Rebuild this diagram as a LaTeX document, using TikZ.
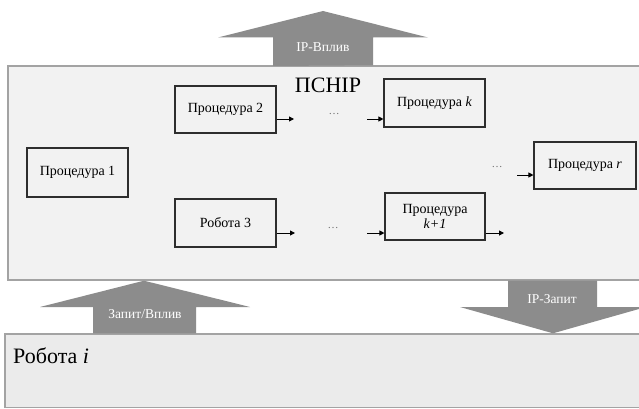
\documentclass[tikz,border=0pt]{standalone}
\usepackage{fontspec}
\setmainfont{Liberation Serif}
\usetikzlibrary{arrows.meta}
\definecolor{panelfill}{HTML}{F2F2F2}
\definecolor{panelline}{HTML}{A3A3A3}
\definecolor{basefill}{HTML}{EBEBEB}
\definecolor{bigarrow}{HTML}{8C8C8C}
\definecolor{boxline}{HTML}{2E2E2E}
\definecolor{dotgray}{HTML}{707070}
\begin{document}
\begin{tikzpicture}[x=1pt,y=-1pt,
  procbox/.style={draw=boxline, line width=1.1pt, fill=panelfill, inner sep=0pt,
    align=center, font=\fontsize{14}{16}\selectfont},
  link/.style={-{Triangle[length=5pt,width=5pt]}, line width=1pt, black},
  bigarr/.style={fill=bigarrow, draw=none},
  arrlabel/.style={text=white, font=\fontsize{13.5}{15}\selectfont},
  dotstyle/.style={text=dotgray, font=\fontsize{11}{12}\selectfont, anchor=base, inner sep=0pt},
  bigtitle/.style={font=\fontsize{22}{24}\selectfont, inner sep=0pt}]
\useasboundingbox (0,0) rectangle (639,409);
\clip (0,0) rectangle (639,409);
\fill[white] (0,0) rectangle (639,409);

% panels
\draw[panelline, line width=1.4pt, fill=panelfill] (8,66) rectangle (660,280);
\draw[panelline, line width=1.4pt, fill=basefill] (5,334) rectangle (660,407.5);

% big arrows
\path[bigarr] (273,66) -- (273,37.5) -- (218,37.5) -- (323,11) -- (428,37.5) -- (373,37.5) -- (373,65.3) -- cycle;
\node[arrlabel] (lblup) at (323,47) {IP-Вплив};

\path[bigarr] (93,333.3) -- (93,307) -- (40,307) -- (144,280.7) -- (250,307) -- (196,307) -- (196,333.3) -- cycle;
\node[arrlabel] (lblreq) at (145,314) {Запит/Вплив};

\path[bigarr] (508,280.7) -- (508,307) -- (460,307) -- (553,333.3) -- (646,307) -- (597,307) -- (597,280.7) -- cycle;
\node[arrlabel] (lbldown) at (552,299) {IP-Запит};

% titles
\node[bigtitle] (title) at (328,85) {ПСНІР};
\node[bigtitle, anchor=west] (work) at (13,356) {Робота \textit{i}};

% procedure boxes
\node[procbox, minimum width=101pt, minimum height=47pt] (p2) at (225.5,109.5) {Процедура 2};
\node[procbox, minimum width=101pt, minimum height=48pt] (pk) at (434.5,103) {Процедура \textit{k}};
\node[procbox, minimum width=101pt, minimum height=49pt] (p1) at (77.5,172.5) {Процедура 1};
\node[procbox, minimum width=102pt, minimum height=47pt] (pr) at (585,165.5) {Процедура \textit{r}};
\node[procbox, minimum width=101pt, minimum height=48pt] (w3) at (225.5,223) {Робота 3};
\node[procbox, minimum width=100pt, minimum height=47pt] (pk1) at (435,216.5) {Процедура\\[-1pt]\textit{k+1}};

% dots
\node[dotstyle] (d1) at (334,114) {\ldots};
\node[dotstyle] (d2) at (333,228) {\ldots};
\node[dotstyle] (d3) at (497,167) {\ldots};

% free ends
\coordinate (e2) at (294,119);
\coordinate (sk) at (367,119);
\coordinate (e3) at (295,233);
\coordinate (sk1) at (367,233);
\coordinate (ek1) at (504,233);
\coordinate (sr) at (517,175);

\draw[link] ([yshift=-9.5pt]p2.east) -- (e2);
\draw[link] (sk) -- ([yshift=-16pt]pk.west);
\draw[link] ([yshift=-10pt]w3.east) -- (e3);
\draw[link] (sk1) -- ([yshift=-16.5pt]pk1.west);
\draw[link] ([yshift=-16.5pt]pk1.east) -- (ek1);
\draw[link] (sr) -- ([yshift=-9.5pt]pr.west);
\end{tikzpicture}
\end{document}
